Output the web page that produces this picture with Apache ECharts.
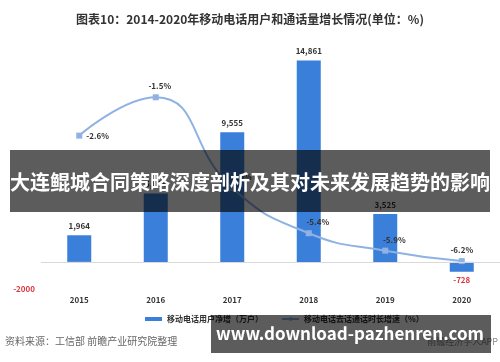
<!DOCTYPE html>
<html><head><meta charset="utf-8">
<script src="https://cdn.jsdelivr.net/npm/echarts@6/dist/echarts.min.js"></script>
<style>html,body{margin:0;padding:0;background:#fff}#c{width:500px;height:362px}</style>
</head><body><div id="c"></div>
<script>
const categories = ['2015','2016','2017','2018','2019','2020'];
const userNetAdd = [1964, 5054, 9555, 14861, 3525, -728];
const callGrowth = [-2.6, -1.5, -4.1, -5.4, -5.9, -6.2];
const leftTicks = {min: -2000, max: 16000, interval: 2000};
const rightTicks = {min: -7, max: 0};
const titleText = '图表10：2014-2020年移动电话用户和通话量增长情况(单位：%)';
const seriesNames = ['移动电话用户净增（万户）', '移动电话去话通话时长增速（%）'];
const bannerText = '大连鲲城合同策略深度剖析及其对未来发展趋势的影响';
const siteText = 'www.download-pazhenren.com';
const sourceText = '资料来源：工信部 前瞻产业研究院整理';

const FONT = '"Noto Sans CJK SC", "Noto Sans", sans-serif';
const chart = echarts.init(document.getElementById('c'));

const barData = userNetAdd.map(v => v < 0
  ? {value: v, label: {position: 'bottom', color: '#d9363e', distance: 4}}
  : {value: v});
const lineLabelPos = ['right', 'top', 'top', 'top', 'top', 'top'];
const lineLabelOff = [[0,0],[4,0],[8,0],[9,0],[9,0],[0,0]];
const lineData = callGrowth.map((v, i) => ({
  value: v,
  label: {position: lineLabelPos[i], offset: lineLabelOff[i]}
}));

chart.setOption({
  animation: false,
  textStyle: {fontFamily: FONT},
  title: {
    text: titleText, left: 'center', top: 8,
    textStyle: {fontSize: 12, fontWeight: 'bold', color: '#333', fontFamily: FONT}
  },
  legend: {
    left: 140, top: 310, itemGap: 18, itemWidth: 17, itemHeight: 4,
    textStyle: {fontSize: 8, fontWeight: 'bold', color: '#333', fontFamily: FONT},
    data: [{name: seriesNames[0], icon: 'rect'}, {name: seriesNames[1]}]
  },
  grid: {left: 41, width: 466, top: 45, bottom: 73},
  xAxis: {
    type: 'category', data: categories,
    axisLine: {show: false}, axisTick: {show: false},
    axisLabel: {margin: 7, fontSize: 8, fontWeight: 'bold', color: '#333'}
  },
  yAxis: [{
    type: 'value', min: leftTicks.min, max: leftTicks.max, interval: leftTicks.interval,
    splitLine: {show: false}, axisLine: {show: false}, axisTick: {show: false},
    axisLabel: {
      margin: 6, fontSize: 8, color: '#d9363e', fontWeight: 'bold',
      formatter: v => v === leftTicks.min ? String(v) : ''
    }
  }, {
    type: 'value', min: rightTicks.min, max: rightTicks.max,
    show: false, splitLine: {show: false}
  }],
  series: [{
    name: seriesNames[0], type: 'bar', data: barData, barWidth: 24,
    itemStyle: {color: '#3a7fd9'},
    label: {
      show: true, position: 'top', distance: 5, fontSize: 8, fontWeight: 'bold', color: '#333',
      formatter: p => p.value.toLocaleString('en-US')
    },
    markLine: {
      silent: true, symbol: 'none', label: {show: false},
      lineStyle: {color: '#d9d9d9', width: 1, type: 'solid'},
      data: [{yAxis: 0}]
    }
  }, {
    name: seriesNames[1], type: 'line', yAxisIndex: 1, data: lineData, smooth: 0.5,
    symbol: 'rect', symbolSize: 6,
    lineStyle: {color: '#8fb2e3', width: 2},
    itemStyle: {color: '#8fb2e3'},
    label: {
      show: true, fontSize: 8, fontWeight: 'bold', color: '#333', distance: 4,
      formatter: p => p.value + '%'
    }
  }],
  graphic: [
    {type: 'text', left: 5, top: 336, z: 10,
     style: {text: sourceText, fontSize: 10, fill: '#666', fontFamily: FONT}},
    {type: 'text', right: 2, top: 337, z: 10,
     style: {text: '前瞻经济学人APP', fontSize: 9, fill: '#888', fontFamily: FONT}},
    {type: 'rect', shape: {x: 10, y: 150, width: 480, height: 62}, z: 100,
     style: {fill: 'rgba(0,0,0,0.64)'}},
    {type: 'text', x: 250, y: 182, z: 101,
     style: {text: bannerText, fontSize: 20, fontWeight: 'bold', fill: '#fff',
             align: 'center', verticalAlign: 'middle', fontFamily: FONT}},
    {type: 'rect', shape: {x: 211, y: 315, width: 280, height: 38}, z: 100,
     style: {fill: 'rgba(0,0,0,0.64)'}},
    {type: 'text', x: 350, y: 334, z: 101,
     style: {text: siteText, fontSize: 17, fontWeight: 'bold', fill: '#fff',
             align: 'center', verticalAlign: 'middle', fontFamily: FONT}}
  ]
});
</script>
</body></html>
